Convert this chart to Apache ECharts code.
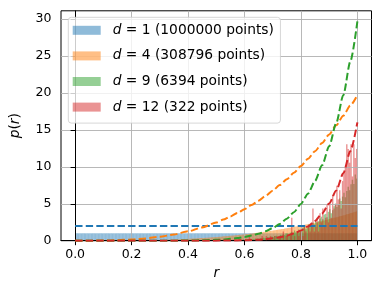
<!DOCTYPE html>
<html><head><meta charset="utf-8">
<script src="https://cdn.jsdelivr.net/npm/echarts@6/dist/echarts.min.js"></script>
<style>html,body{margin:0;padding:0;background:#fff}#c{width:380px;height:294px}</style>
</head><body><div id="c"></div>
<script>
// ---- data ----
const dims = [1, 4, 9, 12];
const pointCounts = [1000000, 308796, 6394, 322];
const binCount = 200; // histogram bins over [0, 1]

const xTicks = [0, 0.2, 0.4, 0.6, 0.8, 1.0];
const yTicks = [0, 5, 10, 15, 20, 25, 30];

// r values for the dashed reference curves
const rGrid = [0, 0.05, 0.1, 0.15, 0.2, 0.25, 0.3, 0.35, 0.4, 0.45, 0.5,
  0.525, 0.55, 0.575, 0.6, 0.625, 0.65, 0.675, 0.7, 0.725, 0.75,
  0.775, 0.8, 0.825, 0.85, 0.875, 0.9, 0.925, 0.95, 0.975, 1.0];
const curveD1 = [2, 2, 2, 2, 2, 2, 2, 2, 2, 2, 2,
  2, 2, 2, 2, 2, 2, 2, 2, 2, 2,
  2, 2, 2, 2, 2, 2, 2, 2, 2, 2];
const curveD4 = [0, 0.0025, 0.0197, 0.0666, 0.158, 0.308, 0.533, 0.846, 1.263, 1.799, 2.467,
  2.857, 3.284, 3.753, 4.264, 4.819, 5.421, 6.071, 6.771, 7.523, 8.328,
  9.189, 10.107, 11.085, 12.123, 13.225, 14.391, 15.624, 16.925, 18.297, 19.739];
const curveD9 = [0, 0, 0, 0, 0.0001, 0.0005, 0.0019, 0.0067, 0.0195, 0.0499, 0.116,
  0.171, 0.2486, 0.355, 0.4986, 0.691, 0.946, 1.280, 1.711, 2.266, 2.972,
  3.865, 4.981, 6.372, 8.090, 10.20, 12.78, 15.91, 19.70, 24.25, 29.69];
const curveD12 = [0, 0, 0, 0, 0, 0, 0, 0.0001, 0.0007, 0.0024, 0.0078,
  0.0134, 0.0223, 0.0364, 0.0581, 0.0910, 0.1402, 0.2125, 0.3168, 0.4663, 0.6768,
  0.971, 1.376, 1.931, 2.681, 3.690, 5.028, 6.797, 9.114, 12.128, 16.023];

// histogram densities, one value per bin
const histD1 = [
  1,1,1,1,1,1,1,1,1,1, 1,1,1,1,1,1,1,1,1,1, 1,1,1,1,1,1,1,1,1,1, 1,1,1,1,1,1,1,1,1,1,
  1,1,1,1,1,1,1,1,1,1, 1,1,1,1,1,1,1,1,1,1, 1,1,1,1,1,1,1,1,1,1, 1,1,1,1,1,1,1,1,1,1,
  1,1,1,1,1,1,1,1,1,1, 1,1,1,1,1,1,1,1,1,1, 1,1,1,1,1,1,1,1,1,1, 1,1,1,1,1,1,1,1,1,1,
  1,1,1,1,1,1,1,1,1,1, 1,1,1,1,1,1,1,1,1,1, 1,1,1,1,1,1,1,1,1,1, 1,1,1,1,1,1,1,1,1,1,
  1,1,1,1,1,1,1,1,1,1, 1,1,1,1,1,1,1,1,1,1, 1,1,1,1,1,1,1,1,1,1, 1,1,1,1,1,1,1,1,1,1];
const histD4 = [
  0,0,0,0,0,0,0,0,0,0,
  0,0,0,0,0,0,0,0,0,0,
  0,0.01,0.01,0.01,0.01,0.01,0.01,0.01,0.01,0.01,
  0.01,0.02,0.02,0.02,0.02,0.02,0.02,0.03,0.03,0.03,
  0.03,0.04,0.04,0.04,0.04,0.05,0.05,0.05,0.06,0.06,
  0.06,0.07,0.07,0.08,0.08,0.09,0.09,0.10,0.10,0.11,
  0.11,0.12,0.12,0.13,0.13,0.14,0.15,0.15,0.16,0.17,
  0.18,0.18,0.19,0.20,0.21,0.22,0.22,0.23,0.24,0.25,
  0.26,0.27,0.28,0.29,0.30,0.31,0.32,0.33,0.35,0.36,
  0.37,0.38,0.40,0.41,0.42,0.44,0.45,0.46,0.48,0.49,
  0.51,0.52,0.54,0.55,0.57,0.59,0.60,0.62,0.64,0.66,
  0.67,0.69,0.71,0.73,0.75,0.77,0.79,0.81,0.83,0.85,
  0.87,0.90,0.92,0.94,0.96,0.99,1.01,1.04,1.06,1.09,
  1.11,1.14,1.16,1.19,1.22,1.24,1.27,1.30,1.33,1.36,
  1.39,1.42,1.45,1.48,1.51,1.54,1.57,1.60,1.64,1.67,
  1.70,1.74,1.77,1.81,1.84,1.88,1.92,1.95,1.99,2.03,
  2.07,2.11,2.15,2.19,2.23,2.27,2.31,2.35,2.39,2.43,
  2.48,2.52,2.57,2.61,2.66,2.70,2.75,2.80,2.84,2.89,
  2.94,2.99,3.04,3.09,3.14,3.19,3.24,3.30,3.35,3.40,
  3.46,3.51,3.57,3.62,3.68,3.74,3.79,3.85,3.91,3.97];
const histD9 = [
  0,0,0,0,0,0,0,0,0,0, 0,0,0,0,0,0,0,0,0,0, 0,0,0,0,0,0,0,0,0,0,
  0,0,0,0,0,0,0,0,0,0, 0,0,0,0,0,0,0,0,0,0, 0,0,0,0,0,0,0,0,0,0,
  0,0,0,0,0,0,0,0,0,0, 0,0,0,0,0,0,0,0,0,0, 0,0,0,0,0,0,0,0,0,0,
  0,0.03,0,0,0.03,0,0.03,0.03,0,0.06,
  0.03,0.06,0.03,0.03,0.06,0.03,0.09,0.06,0.03,0.09,
  0.09,0.06,0.13,0.09,0.06,0.13,0.16,0.09,0.13,0.19,
  0.16,0.13,0.22,0.16,0.25,0.19,0.22,0.28,0.22,0.31,
  0.25,0.34,0.28,0.41,0.34,0.38,0.50,0.41,0.44,0.56,
  0.47,0.63,0.66,0.56,0.60,0.78,0.72,0.88,0.75,0.97,
  0.97,0.84,1.09,1.22,1.03,1.38,1.16,1.31,1.50,1.44,
  1.44,1.75,1.91,1.56,1.72,2.19,2.03,1.91,2.47,2.22,
  2.69,2.44,2.63,3.00,3.25,2.91,3.56,3.63,3.16,3.91,
  4.25,3.72,4.13,4.66,5.03,4.56,4.84,5.72,5.38,5.97,
  6.50,5.88,6.72,7.31,6.84,7.63,8.25,7.69,8.97,8.41];
const histD12 = [
  0,0,0,0,0,0,0,0,0,0, 0,0,0,0,0,0,0,0,0,0, 0,0,0,0,0,0,0,0,0,0,
  0,0,0,0,0,0,0,0,0,0, 0,0,0,0,0,0,0,0,0,0, 0,0,0,0,0,0,0,0,0,0,
  0,0,0,0,0,0,0,0,0,0, 0,0,0,0,0,0,0,0,0,0, 0,0,0,0,0,0,0,0,0,0,
  0,0,0,0,0,0,0,0,0,0, 0,0,0,0,0,0,0,0,0,0, 0,0,0,0,0,0,0,0,0,0,
  0,0,0,0.62,0,0,0,0,0,0,
  0,0,0.62,0,0,0.62,0,0,0.62,0,
  0,0.62,0,0,0.62,0.62,0,1.24,0,0.62,
  0.62,0,0.62,3.11,0,0.62,0,1.24,0.62,1.24,
  1.24,0.62,1.86,1.24,0,1.86,1.24,2.48,4.35,1.24,
  1.86,3.11,1.24,3.73,2.48,4.35,1.86,3.11,4.97,2.48,
  4.97,3.11,6.21,4.35,4.97,7.45,5.59,6.83,4.35,8.07,
  9.32,9.94,13.04,12.42,10.56,13.04,8.70,13.04,11.18,12.42];

// ---- styling ----
const colors = ['#1f77b4', '#ff7f0e', '#2ca02c', '#d62728'];
const fills = ['rgba(31,119,180,0.5)', 'rgba(255,127,14,0.5)', 'rgba(44,160,44,0.5)', 'rgba(214,39,40,0.5)'];
const FONT = 'DejaVu Sans';
const hists = [histD1, histD4, histD9, histD12];
const curves = [curveD1, curveD4, curveD9, curveD12];
const names = dims.map(d => 'hist_d' + d);

const series = [];
hists.forEach((h, i) => {
  series.push({
    type: 'custom', name: names[i], z: 1, silent: true,
    encode: { x: [0, 1], y: 2 },
    data: h.map((v, k) => [k / binCount, (k + 1) / binCount, v]),
    renderItem: function (params, api) {
      const v = api.value(2);
      if (!v) return null;
      const p0 = api.coord([api.value(0), 0]);
      const p1 = api.coord([api.value(1), v]);
      return { type: 'rect', shape: { x: p0[0], y: p1[1], width: p1[0] - p0[0], height: p0[1] - p1[1] },
        style: { fill: fills[i] } };
    }
  });
});
curves.forEach((c, i) => {
  series.push({
    type: 'line', name: 'curve_d' + dims[i], z: 10, silent: true,
    data: rGrid.map((r, j) => [r, c[j]]),
    showSymbol: false, symbol: 'none', smooth: 0.25, smoothMonotone: 'x',
    lineStyle: { color: colors[i], width: 2, type: [7.4, 3.2] }
  });
});

const chart = echarts.init(document.getElementById('c'), null, { renderer: 'canvas' });
chart.setOption({
  animation: false,
  backgroundColor: '#fff',
  grid: { left: 61, right: 8.5, top: 10.8, bottom: 53.3, show: true, borderColor: '#000', borderWidth: 1, backgroundColor: 'transparent' },
  xAxis: {
    type: 'value', min: -0.05, max: 1.05, z: 3,
    name: '{i|r}', nameLocation: 'middle', nameGap: 26,
    nameTextStyle: { rich: { i: { fontFamily: FONT, fontStyle: 'italic', fontSize: 13.8, color: '#000' } } },
    axisLine: { show: true, onZero: false, lineStyle: { color: '#000', width: 1 } },
    axisTick: { show: true, inside: false, length: 4.5, customValues: xTicks, lineStyle: { color: '#000', width: 1 } },
    axisLabel: { customValues: xTicks, margin: 8, color: '#000', fontFamily: FONT, fontSize: 12.5, formatter: v => v.toFixed(1) },
    splitLine: { show: true, lineStyle: { color: '#b0b0b0', width: 0.9 } }
  },
  yAxis: {
    type: 'value', min: 0, max: 31.12, z: 3,
    name: '{i|p}({i|r})', nameLocation: 'middle', nameGap: 39,
    nameTextStyle: { fontFamily: FONT, fontSize: 13.8, color: '#000',
      rich: { i: { fontFamily: FONT, fontStyle: 'italic', fontSize: 13.8, color: '#000' } } },
    axisLine: { show: true, lineStyle: { color: '#000', width: 1 } },
    axisTick: { show: true, inside: false, length: 4.5, customValues: yTicks, lineStyle: { color: '#000', width: 1 } },
    axisLabel: { customValues: yTicks, margin: 9.5, color: '#000', fontFamily: FONT, fontSize: 12.5 },
    splitLine: { show: true, lineStyle: { color: '#b0b0b0', width: 0.9 } }
  },
  legend: {
    orient: 'vertical', left: 68.3, top: 17.3, z: 20,
    padding: [5, 6.5, 8, 4.4], itemGap: 9.6, itemWidth: 28, itemHeight: 9,
    backgroundColor: 'rgba(255,255,255,0.8)', borderColor: 'rgba(204,204,204,0.8)', borderWidth: 1, borderRadius: 3,
    selectedMode: false,
    data: names.map((n, i) => ({ name: n, icon: 'rect', itemStyle: { color: fills[i], borderWidth: 0 } })),
    formatter: n => { const i = names.indexOf(n); return '{i|d} = ' + dims[i] + ' (' + pointCounts[i] + ' points)'; },
    textStyle: { fontFamily: FONT, fontSize: 13.8, color: '#000', lineHeight: 16, padding: [0, 0, 0, 7],
      rich: { i: { fontFamily: FONT, fontStyle: 'italic', fontSize: 13.8, lineHeight: 16, color: '#000' } } }
  },
  series: series
});
</script></body></html>
